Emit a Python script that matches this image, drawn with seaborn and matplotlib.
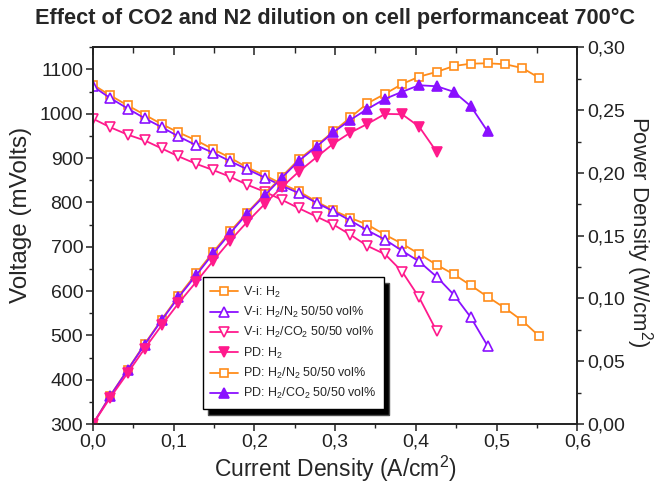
import seaborn as sns
import matplotlib.pyplot as plt
import matplotlib.ticker as mticker
from matplotlib.lines import Line2D

# current density (A/cm2)
current = [0.000, 0.021, 0.043, 0.064, 0.085, 0.106, 0.128, 0.149, 0.170, 0.191,
           0.213, 0.234, 0.255, 0.277, 0.298, 0.319, 0.340, 0.362, 0.383, 0.404,
           0.426, 0.447, 0.468, 0.489, 0.511, 0.532, 0.553]

# voltage curves (mV)
v_orange = [1066, 1042, 1019, 998, 977, 958, 940, 920, 901, 879, 861, 842, 825, 802,
            782, 765, 750, 727, 707, 684, 659, 638, 613, 587, 561, 533, 498]
v_purple = [1062, 1036, 1012, 990, 970, 949, 929, 912, 893, 875, 856, 838, 821, 799,
            780, 759, 737, 716, 691, 667, 632, 592, 541, 476]
v_pink = [989, 970, 953, 940, 922, 904, 887, 873, 858, 840, 824, 806, 787, 768,
          750, 727, 702, 683, 644, 586, 509]

# power density curves (W/cm2)
pd_orange = [0.0, 0.0222, 0.0434, 0.0637, 0.0832, 0.1019, 0.1200, 0.1370, 0.1534,
             0.1683, 0.1832, 0.1971, 0.2107, 0.2219, 0.2330, 0.2442, 0.2554, 0.2630,
             0.2708, 0.2766, 0.2805, 0.2851, 0.2870, 0.2873, 0.2865, 0.2835, 0.2756]
pd_purple = [0.0, 0.0220, 0.0431, 0.0632, 0.0826, 0.1010, 0.1186, 0.1359, 0.1520,
             0.1676, 0.1822, 0.1962, 0.2096, 0.2210, 0.2324, 0.2423, 0.2509, 0.2590,
             0.2646, 0.2698, 0.2690, 0.2646, 0.2532, 0.2330]
pd_pink = [0.0, 0.0206, 0.0406, 0.0600, 0.0785, 0.0962, 0.1133, 0.1300, 0.1461,
           0.1609, 0.1754, 0.1887, 0.2010, 0.2125, 0.2234, 0.2321, 0.2390, 0.2470,
           0.2467, 0.2369, 0.2166]

orange = '#FF8C1A'
purple = '#8A10FF'
pink = '#FF1A8C'

sns.set_style('ticks')
plt.rcParams['font.family'] = ['Liberation Sans', 'DejaVu Sans']
plt.rcParams['mathtext.fontset'] = 'custom'
plt.rcParams['mathtext.rm'] = 'Liberation Sans'
plt.rcParams['mathtext.it'] = 'Liberation Sans'
plt.rcParams['mathtext.bf'] = 'Liberation Sans:bold'

fig = plt.figure(figsize=(6.59, 4.88), dpi=100)
ax = fig.add_axes([0.141, 0.131, 0.735, 0.772])
ax2 = ax.twinx()

lw = 1.3
mew = 1.2
sq = 5.2
tri = 7

# V-i curves
sns.lineplot(x=current, y=v_orange, ax=ax, color=orange, lw=lw, marker='s',
             ms=sq, mfc='white', mec=orange, mew=mew, estimator=None)
sns.lineplot(x=current[:len(v_purple)], y=v_purple, ax=ax, color=purple, lw=lw,
             marker='^', ms=tri, mfc='white', mec=purple, mew=mew, estimator=None)
sns.lineplot(x=current[:len(v_pink)], y=v_pink, ax=ax, color=pink, lw=lw,
             marker='v', ms=tri, mfc='white', mec=pink, mew=mew, estimator=None)

# PD curves
sns.lineplot(x=current, y=pd_orange, ax=ax2, color=orange, lw=lw, marker='s',
             ms=sq, mfc='white', mec=orange, mew=mew, estimator=None)
sns.lineplot(x=current[:len(pd_purple)], y=pd_purple, ax=ax2, color=purple, lw=lw,
             marker='^', ms=tri, mfc=purple, mec=purple, mew=mew, estimator=None)
sns.lineplot(x=current[:len(pd_pink)], y=pd_pink, ax=ax2, color=pink, lw=lw,
             marker='v', ms=tri, mfc=pink, mec=pink, mew=mew, estimator=None)

ax.set_xlim(0, 0.6)
ax.set_ylim(300, 1150)
ax2.set_ylim(0, 0.30)

ax.xaxis.set_major_locator(mticker.MultipleLocator(0.1))
ax.xaxis.set_minor_locator(mticker.MultipleLocator(0.05))
ax.yaxis.set_major_locator(mticker.MultipleLocator(100))
ax.yaxis.set_minor_locator(mticker.MultipleLocator(50))
ax2.yaxis.set_major_locator(mticker.MultipleLocator(0.05))
ax2.yaxis.set_minor_locator(mticker.MultipleLocator(0.025))

ax.xaxis.set_major_formatter(mticker.FuncFormatter(lambda v, p: f'{v:.1f}'.replace('.', ',')))
ax2.yaxis.set_major_formatter(mticker.FuncFormatter(lambda v, p: f'{v:.2f}'.replace('.', ',')))

for a in (ax, ax2):
    for s in a.spines.values():
        s.set_visible(True)
        s.set_linewidth(1.2)
        s.set_color('#222222')

ax.tick_params(axis='both', which='major', labelsize=14, length=5, width=1.1,
               direction='out', colors='#222222', pad=2)
ax.tick_params(axis='both', which='minor', length=3, width=1.0, direction='out')
ax2.tick_params(axis='y', which='major', labelsize=14, length=5, width=1.1,
                direction='out', colors='#222222', pad=2)
ax2.tick_params(axis='y', which='minor', length=3, width=1.0, direction='out')

# top axis: ticks pointing inward, no labels
top = ax.secondary_xaxis('top')
top.xaxis.set_major_locator(mticker.MultipleLocator(0.1))
top.xaxis.set_minor_locator(mticker.MultipleLocator(0.05))
top.tick_params(which='major', direction='in', length=6, width=1.1,
                labeltop=False, colors='#222222')
top.tick_params(which='minor', direction='in', length=4, width=1.0)
top.spines['top'].set_linewidth(1.2)

ax.set_xlabel('Current Density (A/cm$^2$)', fontsize=16.5, labelpad=2)
ax.set_ylabel('Voltage (mVolts)', fontsize=17.5)
ax.yaxis.set_label_coords(-0.126, 0.555)
ax2.set_ylabel('Power Density (W/cm$^2$)', fontsize=16, rotation=270, va='center')
ax2.yaxis.set_label_coords(1.128, 0.51)
ax.set_title('Effect of CO2 and N2 dilution on cell performanceat 700°C',
             fontsize=15.7, fontweight='bold', pad=17)

# legend as in the original figure
entries = [
    ('V-i: H$_2$', orange, 's', 'white', sq),
    ('V-i: H$_2$/N$_2$ 50/50 vol%', purple, '^', 'white', tri),
    ('V-i: H$_2$/CO$_2$ 50/50 vol%', pink, 'v', 'white', tri),
    ('PD: H$_2$', pink, 'v', pink, tri),
    ('PD: H$_2$/N$_2$ 50/50 vol%', orange, 's', 'white', sq),
    ('PD: H$_2$/CO$_2$ 50/50 vol%', purple, '^', purple, tri),
]
handles = [Line2D([], [], color=c, lw=lw, marker=m, mfc=f, mec=c, mew=mew, ms=s)
           for _, c, m, f, s in entries]
labels = [e[0] for e in entries]
leg = ax2.legend(handles, labels, loc='upper left', bbox_to_anchor=(0.227, 0.39),
                 borderaxespad=0, fontsize=9, frameon=True, fancybox=False,
                 handlelength=2.2, handletextpad=0.4, labelspacing=0.42,
                 borderpad=0.6,
                 shadow={'ox': 4, 'oy': -4, 'facecolor': 'black', 'alpha': 1})
leg.get_frame().set_edgecolor('black')
leg.get_frame().set_linewidth(1.0)

fig.savefig('out.png', dpi=100)
